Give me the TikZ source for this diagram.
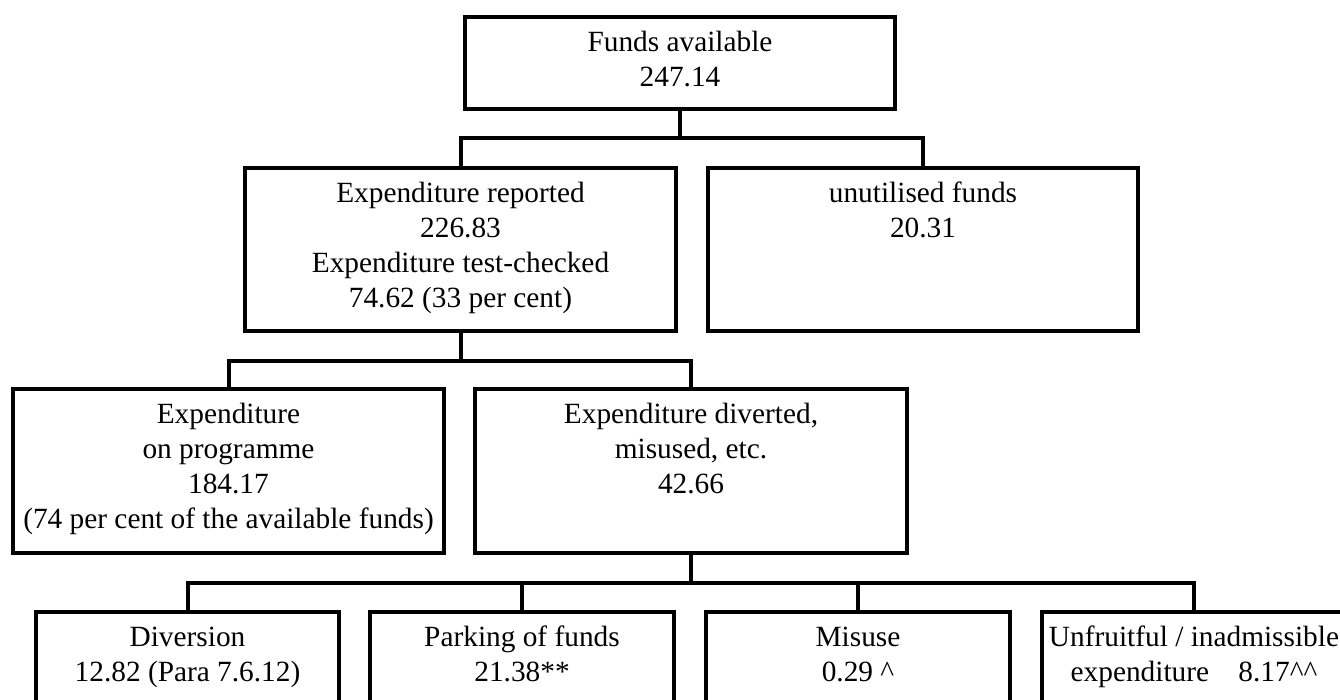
\documentclass[tikz,border=0pt]{standalone}
\usepackage{fontspec}
\setmainfont{Liberation Serif}
\newcommand\diafont{\fontsize{22}{26.25}\selectfont}
\begin{document}
\begin{tikzpicture}[x=0.75pt,y=-0.75pt,
  box/.style={draw, line width=3pt, inner sep=0pt, rectangle},
  txt/.style={anchor=north, inner sep=0pt, align=center, font=\diafont, yshift=-8.6pt},
  conn/.style={draw, line width=3pt, line join=miter}]
\clip (0,0) rectangle (1340,700);
% boxes
\node[box, minimum width=322.5pt, minimum height=69pt] (top) at (680,63) {};
\node[box, minimum width=323.25pt, minimum height=122.25pt] (rep) at (460.5,249.5) {};
\node[box, minimum width=322.5pt, minimum height=122.25pt] (unu) at (923,249.5) {};
\node[box, minimum width=323.25pt, minimum height=123pt] (prog) at (228.5,471) {};
\node[box, minimum width=324pt, minimum height=123pt] (div) at (691,471) {};
\node[box, minimum width=227.25pt, minimum height=111pt] (d1) at (187.5,686) {};
\node[box, minimum width=228pt, minimum height=111pt] (d2) at (522,686) {};
\node[box, minimum width=228pt, minimum height=111pt] (d3) at (858,686) {};
\node[box, minimum width=228pt, minimum height=111pt] (d4) at (1194,686) {};
% texts
\node[txt] (ttop) at (top.north) {\strut Funds available\\247.14};
\node[txt] (trep) at (rep.north) {\strut Expenditure reported\\226.83\\Expenditure test-checked\\74.62 (33 per cent)};
\node[txt] (tunu) at (unu.north) {\strut unutilised funds\\20.31};
\node[txt] (tprog) at (prog.north) {\strut Expenditure\\on programme\\184.17\\(74 per cent of the available funds)};
\node[txt] (tdiv) at (div.north) {\strut Expenditure diverted,\\misused, etc.\\42.66};
\node[txt] (td1) at (d1.north) {\strut Diversion\\12.82 (Para 7.6.12)};
\node[txt] (td2) at (d2.north) {\strut Parking of funds\\21.38**};
\node[txt] (td3) at (d3.north) {\strut Misuse\\0.29 \textasciicircum};
\node[txt] (td4) at (d4.north) {\strut Unfruitful / inadmissible\\expenditure\quad 8.17\textasciicircum\textasciicircum};
% connectors
\coordinate (j1) at (680,138);
\coordinate (j2) at (460.5,361);
\coordinate (j3) at (691,583);
\draw[conn] (top.south) -- (j1);
\draw[conn] (rep.north) |- (j1) -| (unu.north);
\draw[conn] (rep.south) -- (j2);
\draw[conn] (prog.north) |- (j2) -| (div.north);
\draw[conn] (div.south) -- (j3);
\draw[conn] (d1.north) |- (j3) -| (d4.north);
\draw[conn] (d2.north) -- (d2.north |- j3);
\draw[conn] (d3.north) -- (d3.north |- j3);
\end{tikzpicture}
\end{document}
